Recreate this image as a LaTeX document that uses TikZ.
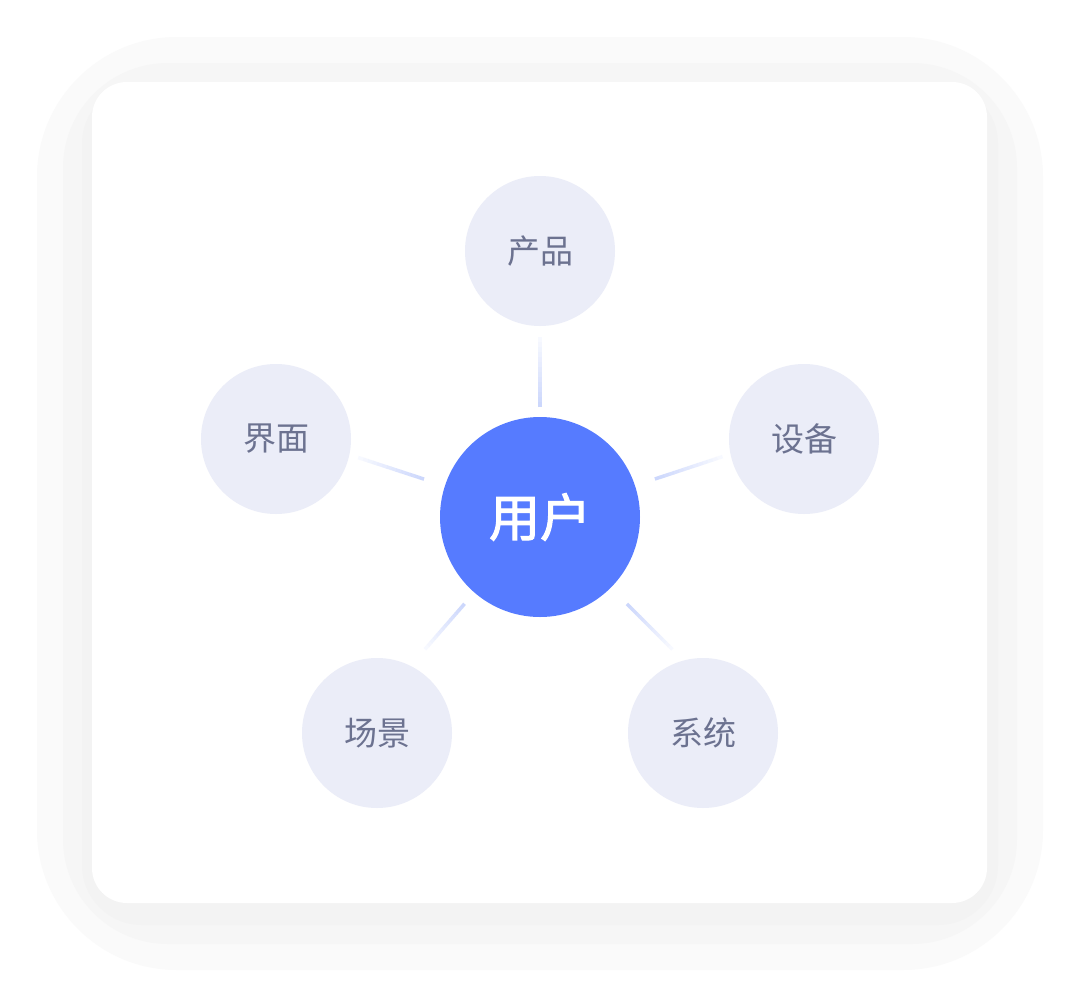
\documentclass[tikz,border=0pt]{standalone}
\usepackage{fontspec}
\newfontfamily\cjk{Noto Sans CJK SC}
\newfontfamily\cjkhub[FakeBold=2.2]{Noto Sans CJK SC}
\usetikzlibrary{calc}
\definecolor{frameA}{HTML}{FAFAFA}
\definecolor{frameB}{HTML}{F6F6F6}
\definecolor{frameC}{HTML}{F3F3F3}
\definecolor{hub}{HTML}{567BFF}
\definecolor{sat}{HTML}{EBEDF8}
\definecolor{lbl}{HTML}{6C7290}
\definecolor{conn}{HTML}{CCD7FC}
% #1 hub node, #2 screen angle, #3 start radius, #4 end radius
\newcommand\fadelink[4]{%
  \foreach \i in {0,...,13}{%
    \pgfmathsetmacro\pct{100-6.5*\i}%
    \pgfmathsetmacro\da{#3+(#4-#3)*\i/14}%
    \pgfmathsetmacro\db{#3+(#4-#3)*(\i+1.05)/14}%
    \draw[connline, draw=conn!\pct!white]
      ($(#1)+(#2:\da)$) -- ($(#1)+(#2:\db)$);
  }%
}
\begin{document}
\begin{tikzpicture}[x=1pt,y=-1pt,
  satnode/.style={circle, fill=sat, minimum size=150pt, inner sep=0pt,
    font=\cjk\fontsize{33}{33}\selectfont, text=lbl},
  hubnode/.style={circle, fill=hub, minimum size=200pt, inner sep=0pt,
    font=\cjkhub\fontsize{51}{51}\selectfont, text=white},
  connline/.style={line width=3.5pt, line cap=butt}]
\useasboundingbox (0,0) rectangle (1080,1007);
\fill[white] (0,0) rectangle (1080,1007);
% layered frame / shadow
\fill[frameA, rounded corners=140pt] (37,37) rectangle (1043,970);
\fill[frameB, rounded corners=105pt] (63,63) rectangle (1017,944);
\fill[frameC, rounded corners=60pt] (82,84) rectangle (998,925);
\fill[white, rounded corners=35pt] (92,82) rectangle (987,903);
% nodes
\node[hubnode] (hub) at (540,517) {用户};
\node[satnode] (prod) at (540,251) {产品};
\node[satnode] (dev) at (804,439) {设备};
\node[satnode] (ui) at (276,439) {界面};
\node[satnode] (scene) at (377,733) {场景};
\node[satnode] (sys) at (703,733) {系统};
% connectors (hub towards each satellite)
\fadelink{hub}{-90}{110}{180}
\fadelink{hub}{-18.3}{121}{192}
\fadelink{hub}{198.1}{122}{191}
\fadelink{hub}{131}{115}{175}
\fadelink{hub}{45}{123}{187}
\end{tikzpicture}
\end{document}
